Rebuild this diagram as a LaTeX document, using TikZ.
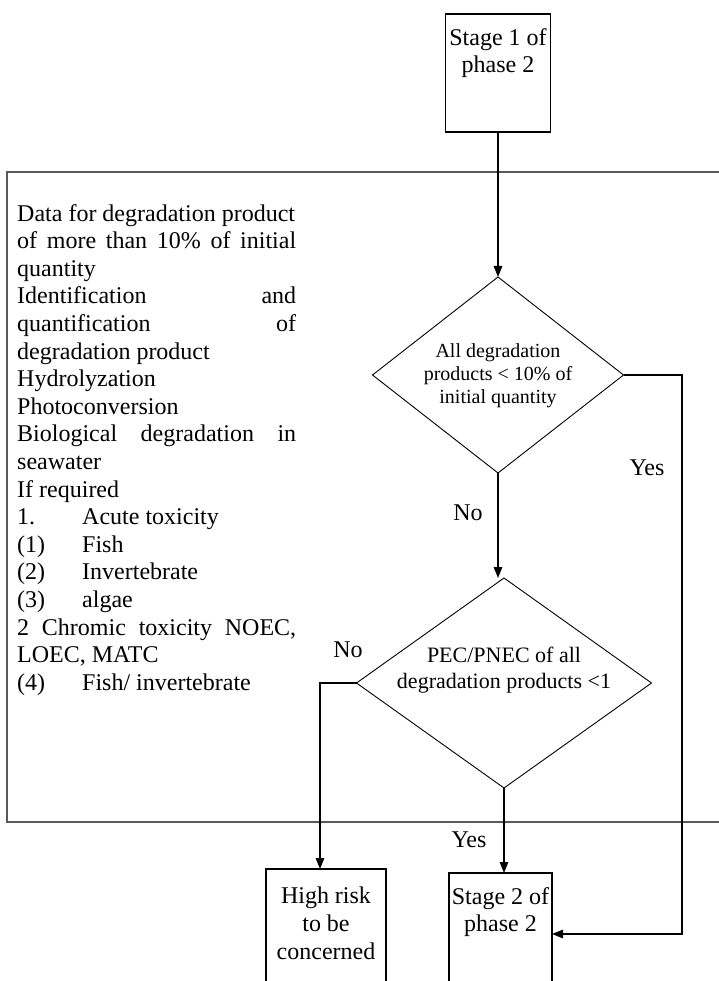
\documentclass[tikz,border=0pt]{standalone}
\usepackage{fontspec}
\setmainfont{Liberation Serif}
\usetikzlibrary{shapes.geometric, arrows.meta, positioning}

\newcommand{\jline}[1]{\makebox[279pt][s]{#1}}
\newcommand{\tabitem}[1]{\makebox[65pt][l]{#1}}

\begin{document}
\begin{tikzpicture}[x=1pt, y=-1pt,
    flowbox/.style={draw, rectangle, line width=1.1pt, inner sep=0pt, outer sep=0pt},
    decision/.style={draw, diamond, line width=0.9pt, inner sep=0pt, outer sep=0pt},
    boxtext/.style={align=center, inner sep=0pt, font=\fontsize{24}{27.6}\selectfont},
    tag/.style={inner sep=0pt, font=\fontsize{24}{27.6}\selectfont},
    flowline/.style={line width=1.3pt},
    flowarrow/.style={line width=1.3pt, -{Triangle[length=11pt, width=8.5pt]}}]

\path[use as bounding box] (0,0) rectangle (719,981);
\clip (0,0) rectangle (719,981);

\draw[line width=1.6pt, black!65] (7,172) rectangle (760,822);

\node[flowbox, minimum width=105pt, minimum height=118pt] (s1) at (498,73) {};
\node[boxtext, below=14pt of s1.north] (s1text) {Stage 1 of\\phase 2};

\node[anchor=north west, inner sep=0pt, align=left,
      font=\fontsize{24}{27.6}\selectfont] (info) at (17,204) {%
Data for degradation product\\
\jline{of more than 10\% of initial}\\
quantity\\
\jline{Identification and}\\
\jline{quantification of}\\
degradation product\\
Hydrolyzation\\
Photoconversion\\
\jline{Biological degradation in}\\
seawater\\
If required\\
\tabitem{1.}Acute toxicity\\
\tabitem{(1)}Fish\\
\tabitem{(2)}Invertebrate\\
\tabitem{(3)}algae\\
\jline{2 Chromic toxicity NOEC,}\\
LOEC, MATC\\
\tabitem{(4)}Fish/ invertebrate};

\node[decision, minimum width=251pt, minimum height=196pt] (d1) at (498,375) {};
\node[align=center, inner sep=0pt, font=\fontsize{20}{23}\selectfont] (d1text) at (498,376)
    {All degradation\\products < 10\% of\\initial quantity};

\node[decision, minimum width=295pt, minimum height=210pt] (d2) at (504,683) {};
\node[align=center, inner sep=0pt, font=\fontsize{22}{25.3}\selectfont] (d2text) at (504,670)
    {PEC/PNEC of all\\degradation products <1};

\node[flowbox, minimum width=120pt, minimum height=150pt] (hr) at (326,944) {};
\node[boxtext, below=18pt of hr.north] (hrtext) {High risk\\to be\\concerned};

\node[flowbox, minimum width=103pt, minimum height=122pt] (s2) at (500.5,934) {};
\node[boxtext, below=14pt of s2.north] (s2text) {Stage 2 of\\phase 2};

\coordinate (yesturn) at (682,375);
\coordinate (noturn) at (320,683);

\draw[flowarrow] (s1) -- (d1);
\draw[flowarrow] (d1.south) -- (d1.south |- d2.north);
\draw[flowarrow] (d2.south) -- (d2.south |- s2.north);
\draw[flowarrow] (d1.east) -- (yesturn) |- (s2.east);
\draw[flowarrow] (d2.west) -- (noturn) -- (noturn |- hr.north);

\node[tag] (yesright) at (647,468) {Yes};
\node[tag] (nomid) at (468,513) {No};
\node[tag] (noleft) at (348,650) {No};
\node[tag] (yesbottom) at (469,840) {Yes};

\end{tikzpicture}
\end{document}
